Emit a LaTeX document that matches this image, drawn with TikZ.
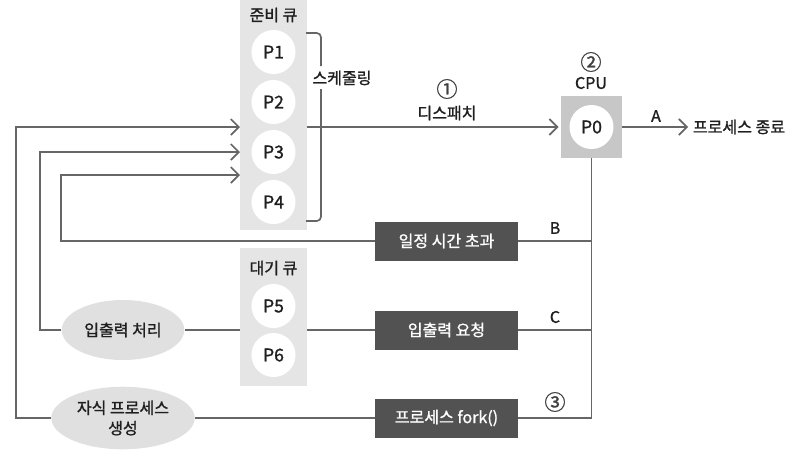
\documentclass[tikz,border=0pt]{standalone}
\usepackage{fontspec}
\setmainfont{Noto Sans CJK KR}[FakeBold=1.2]
\usetikzlibrary{arrows.meta,shapes.geometric}

\begin{document}
\begin{tikzpicture}[
  x=0.025cm, y=-0.025cm,
  every node/.style={font=\fontsize{11.4}{13}\selectfont, text=black!88},
  queue/.style={fill=black!10, minimum width=1.65cm},
  proc/.style={circle, fill=white, minimum size=1.1cm, inner sep=0pt, font=\fontsize{12.5}{14}\selectfont},
  cpubox/.style={fill=black!22, minimum size=1.525cm},
  event/.style={fill=black!68, text=white, minimum width=3.575cm, minimum height=0.975cm},
  device/.style={ellipse, fill=black!12, minimum width=3.05cm, minimum height=1.5cm},
  stepmark/.style={font=\fontsize{15}{16}\selectfont, text=black!75},
  line/.style={draw=black!60, line width=1.2pt},
  arrow/.style={line, -{Straight Barb[length=2mm,width=4mm]}},
  bracket/.style={line, rounded corners=3pt}
  ]
	\useasboundingbox (0,0) rectangle (796,449);

	% ready queue
	\node[queue, minimum height=5.75cm] (ready) at (273.5,115) {};
	\node (readytitle) at (273.5,15) {준비 큐};
	\node[proc] (p1) at (273.5,52) {P1};
	\node[proc] (p2) at (273.5,102) {P2};
	\node[proc] (p3) at (273.5,152) {P3};
	\node[proc] (p4) at (273.5,202) {P4};

	% wait queue
	\node[queue, minimum height=3.45cm] (wait) at (273.5,317) {};
	\node (waittitle) at (273.5,268) {대기 큐};
	\node[proc] (p5) at (273.5,306) {P5};
	\node[proc] (p6) at (273.5,355) {P6};

	% cpu
	\node[cpubox] (cpu) at (591.5,127) {};
	\node[proc] (p0) at (591.5,127) {P0};
	\node (cpulabel) at (591,83) {CPU};
	\node[stepmark] (mark2) at (591,62) {②};
	\node[anchor=west] (end) at (688,127) {프로세스 종료};
	\node (labelA) at (656,116) {A};

	\node[event] (timeout) at (446.5,241) {일정 시간 초과};
	\node[event] (ioreq) at (446.5,330) {입출력 요청};
	\node[event] (fork) at (446.5,418) {프로세스 fork()};
	\node (labelB) at (555,228) {B};
	\node (labelC) at (555,317) {C};
	\node[stepmark] (mark3) at (555,402) {③};

	\node[device] (io) at (123,330) {입출력 처리};
	\node[device, align=center, font=\fontsize{11.4}{14.5}\selectfont] (child) at (123,418) {자식 프로세스\\생성};

	\node[stepmark] (mark1) at (447,89) {①};
	\node (dispatch) at (447,113) {디스패치};
	\node (sched) at (342,78) {스케줄링};

	% scheduling bracket
	\draw[bracket] (306,33) -| (321,66);
	\draw[bracket] (321,89) |- (306,221);

	\coordinate (in1) at (240,127);
	\coordinate (in2) at (240,152);
	\coordinate (in3) at (240,175);
	\coordinate (c1) at (16,127);
	\coordinate (c2) at (40,152);
	\coordinate (c3) at (61,175);

	\draw[arrow, shorten >=1.5pt] (ready.east |- in1) -- (cpu.west |- in1);
	\draw[arrow] (cpu.east) -- (cpu.east -| end.west);

	\draw[line] (cpu.south) |- (fork.east);
	\draw[line] (timeout.east) -- (timeout.east -| cpu.south);
	\draw[line] (ioreq.east) -- (ioreq.east -| cpu.south);

	\draw[arrow] (timeout.west) -| (c3) -- (in3);

	\draw[line] (ioreq.west) -- (ioreq.west -| wait.east);
	\draw[line] (wait.west |- io.east) -- (io.east);
	\draw[arrow] (io.west) -| (c2) -- (in2);

	\draw[line] (fork.west) -- (child.east);
	\draw[arrow] (child.west) -| (c1) -- (in1);
\end{tikzpicture}
\end{document}
